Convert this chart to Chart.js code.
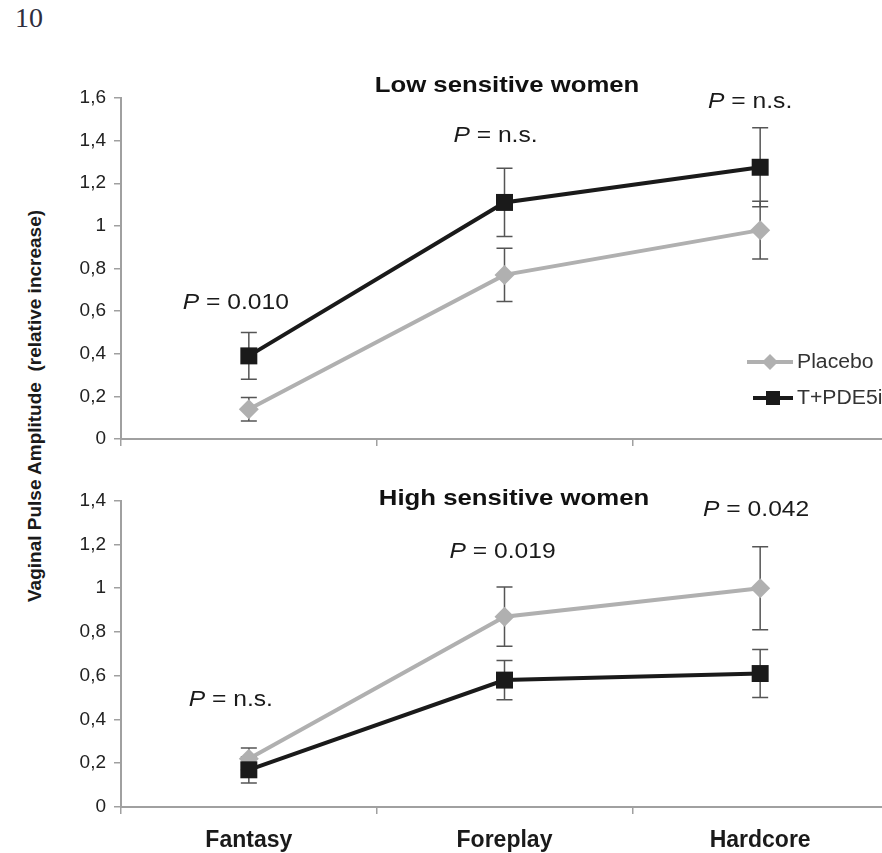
<!DOCTYPE html>
<html>
<head>
<meta charset="utf-8">
<script src="https://cdn.jsdelivr.net/npm/chart.js@4.4.1/dist/chart.umd.min.js"></script>
<style>
  html, body { margin: 0; padding: 0; background: #fff; overflow: hidden; width: 882px; height: 853px; }
  #page { position: relative; width: 882px; height: 853px; }
  canvas { position: absolute; left: 0; }
  #pageNum { position: absolute; left: 15px; top: 2px; font: 28px "Liberation Serif", serif; color: #2e2e3e; }
  #yTitle {
    position: absolute; left: 35px; top: 406px; white-space: nowrap;
    transform: translate(-50%, -50%) rotate(-90deg);
    font: bold 19px "Liberation Sans", Arial, sans-serif; color: #1a1a1a;
  }
</style>
</head>
<body>
<div id="page">
  <div id="pageNum">10</div>
  <div id="yTitle">Vaginal Pulse Amplitude&nbsp; (relative increase)</div>
  <canvas id="lowChart" width="900" height="460" style="top:0"></canvas>
  <canvas id="highChart" width="900" height="393" style="top:460px"></canvas>
</div>
<script>
// categories and series
const categories = ['Fantasy', 'Foreplay', 'Hardcore'];

const placeboLow = [0.14, 0.77, 0.98];
const placeboLowErr = [0.055, 0.125, 0.135];
const tpdeLow = [0.39, 1.11, 1.275];
const tpdeLowErr = [0.11, 0.16, 0.185];

const placeboHigh = [0.22, 0.87, 1.00];
const placeboHighErr = [0.05, 0.135, 0.19];
const tpdeHigh = [0.17, 0.58, 0.61];
const tpdeHighErr = [0.06, 0.09, 0.11];

const pLabelsLow = ['0.010', 'n.s.', 'n.s.'];
const pLabelsHigh = ['n.s.', '0.019', '0.042'];

const seriesNames = ['Placebo', 'T+PDE5i'];

const GREY = '#b0b0b0';
const BLACK = '#1a1a1a';
const AXIS = '#a0a0a0';
const FONT = '"Liberation Sans", Arial, sans-serif';

function commaTick(v) {
    return String(Math.round(v * 10) / 10).replace('.', ',');
}

// text with a slight horizontal stretch, like the scanned figure
function stretchText(ctx, text, x, y, font, sx, align) {
    ctx.save();
    ctx.font = font;
    ctx.textBaseline = 'middle';
    ctx.textAlign = align || 'left';
    ctx.translate(x, y);
    ctx.scale(sx, 1);
    ctx.fillText(text, 0, 0);
    ctx.restore();
}

function drawPValue(ctx, label, cx, cy) {
    const sx = 1.12;
    ctx.save();
    ctx.fillStyle = '#1a1a1a';
    ctx.font = 'italic 22px ' + FONT;
    const wp = ctx.measureText('P').width * sx;
    ctx.font = '22px ' + FONT;
    const rest = ' = ' + label;
    const wr = ctx.measureText(rest).width * sx;
    const x0 = cx - (wp + wr) / 2;
    stretchText(ctx, 'P', x0, cy, 'italic 22px ' + FONT, sx);
    stretchText(ctx, rest, x0 + wp, cy, '22px ' + FONT, sx);
    ctx.restore();
}

const panelDecor = {
    id: 'panelDecor',
    beforeDatasetsDraw(chart) {
        const ctx = chart.ctx;
        const y = chart.scales.y;
        ctx.save();
        ctx.strokeStyle = '#555';
        ctx.lineWidth = 1.5;
        chart.data.datasets.forEach((ds, di) => {
            const meta = chart.getDatasetMeta(di);
            meta.data.forEach((pt, i) => {
                const top = y.getPixelForValue(ds.data[i] + ds.errors[i]);
                const bot = y.getPixelForValue(ds.data[i] - ds.errors[i]);
                ctx.beginPath();
                ctx.moveTo(pt.x, top); ctx.lineTo(pt.x, bot);
                ctx.moveTo(pt.x - 8, top); ctx.lineTo(pt.x + 8, top);
                ctx.moveTo(pt.x - 8, bot); ctx.lineTo(pt.x + 8, bot);
                ctx.stroke();
            });
        });
        ctx.restore();
    },
    afterDatasetsDraw(chart, args, opts) {
        const ctx = chart.ctx;
        const x = chart.scales.x;
        const y = chart.scales.y;
        ctx.save();
        ctx.fillStyle = '#111';
        stretchText(ctx, opts.title, opts.titleX, opts.titleY, 'bold 22px ' + FONT, 1.17, 'center');
        opts.pLabels.forEach((lab, i) => {
            const a = opts.pPos[i];
            drawPValue(ctx, lab, x.getPixelForValue(i) + a.dx, y.getPixelForValue(a.v));
        });
        if (opts.legend) {
            const lx = opts.legend.x, ly = opts.legend.y;
            // Placebo
            ctx.strokeStyle = GREY; ctx.lineWidth = 4;
            ctx.beginPath(); ctx.moveTo(lx - 50, ly); ctx.lineTo(lx - 4, ly); ctx.stroke();
            ctx.fillStyle = GREY;
            ctx.beginPath();
            ctx.moveTo(lx - 27, ly - 8); ctx.lineTo(lx - 19, ly); ctx.lineTo(lx - 27, ly + 8); ctx.lineTo(lx - 35, ly);
            ctx.closePath(); ctx.fill();
            // T+PDE5i
            const ly2 = ly + 36;
            ctx.strokeStyle = BLACK;
            ctx.beginPath(); ctx.moveTo(lx - 44, ly2); ctx.lineTo(lx - 4, ly2); ctx.stroke();
            ctx.fillStyle = BLACK;
            ctx.fillRect(lx - 31, ly2 - 7, 14, 14);
            ctx.fillStyle = '#333';
            stretchText(ctx, seriesNames[0], lx, ly, '20px ' + FONT, 1.06);
            stretchText(ctx, seriesNames[1], lx, ly2, '20px ' + FONT, 1.06);
        }
        ctx.restore();
    }
};

function makePanel(id, cfg) {
    const ctx = document.getElementById(id).getContext('2d');
    return new Chart(ctx, {
        type: 'line',
        data: {
            labels: categories,
            datasets: [{
                label: seriesNames[1],
                data: cfg.tpde,
                errors: cfg.tpdeErr,
                borderColor: BLACK,
                backgroundColor: BLACK,
                borderWidth: 4,
                pointStyle: 'rect',
                pointRadius: 12,
                pointBorderWidth: 0,
                pointBackgroundColor: BLACK,
                tension: 0,
                clip: false
            }, {
                label: seriesNames[0],
                data: cfg.placebo,
                errors: cfg.placeboErr,
                borderColor: GREY,
                backgroundColor: GREY,
                borderWidth: 4,
                pointStyle: 'rectRot',
                pointRadius: 10,
                pointBorderWidth: 0,
                pointBackgroundColor: GREY,
                tension: 0,
                clip: false
            }]
        },
        options: {
            responsive: false,
            animation: false,
            devicePixelRatio: 1,
            layout: { padding: cfg.padding },
            plugins: {
                legend: { display: false },
                tooltip: { enabled: false },
                panelDecor: {
                    title: cfg.title, titleX: cfg.titleX, titleY: cfg.titleY,
                    pLabels: cfg.pLabels, pPos: cfg.pPos, legend: cfg.legend
                }
            },
            scales: {
                x: {
                    offset: true,
                    afterFit: (s) => { s.height = cfg.xHeight; },
                    grid: { offset: true, drawOnChartArea: false, tickLength: 7, color: AXIS, lineWidth: 1.5 },
                    border: { color: AXIS, width: 2 },
                    ticks: {
                        display: cfg.showX,
                        padding: 13,
                        color: '#1a1a1a',
                        font: { family: FONT, size: 23, weight: 'bold' }
                    }
                },
                y: {
                    min: 0,
                    max: cfg.yMax,
                    afterFit: (s) => { s.width = 121; },
                    grid: { drawOnChartArea: false, tickLength: 7, color: AXIS, lineWidth: 1.5 },
                    border: { color: AXIS, width: 2 },
                    ticks: {
                        stepSize: 0.2,
                        padding: 8,
                        color: '#222',
                        font: { family: FONT, size: 19 },
                        callback: commaTick
                    }
                }
            }
        },
        plugins: [panelDecor]
    });
}

makePanel('lowChart', {
    tpde: tpdeLow, tpdeErr: tpdeLowErr,
    placebo: placeboLow, placeboErr: placeboLowErr,
    yMax: 1.6,
    padding: { left: 0, right: 4, top: 98, bottom: 0 },
    xHeight: 21,
    showX: false,
    title: 'Low sensitive women', titleX: 507, titleY: 86,
    pLabels: pLabelsLow,
    pPos: [{ v: 0.64, dx: -13 }, { v: 1.42, dx: -9 }, { v: 1.58, dx: -10 }],
    legend: { x: 797, y: 362 }
});

makePanel('highChart', {
    tpde: tpdeHigh, tpdeErr: tpdeHighErr,
    placebo: placeboHigh, placeboErr: placeboHighErr,
    yMax: 1.4,
    padding: { left: 0, right: 4, top: 40.7, bottom: 0 },
    xHeight: 46,
    showX: true,
    title: 'High sensitive women', titleX: 514, titleY: 39,
    pLabels: pLabelsHigh,
    pPos: [{ v: 0.49, dx: -18 }, { v: 1.166, dx: -2 }, { v: 1.358, dx: -4 }],
    legend: null
});
</script>
</body>
</html>
